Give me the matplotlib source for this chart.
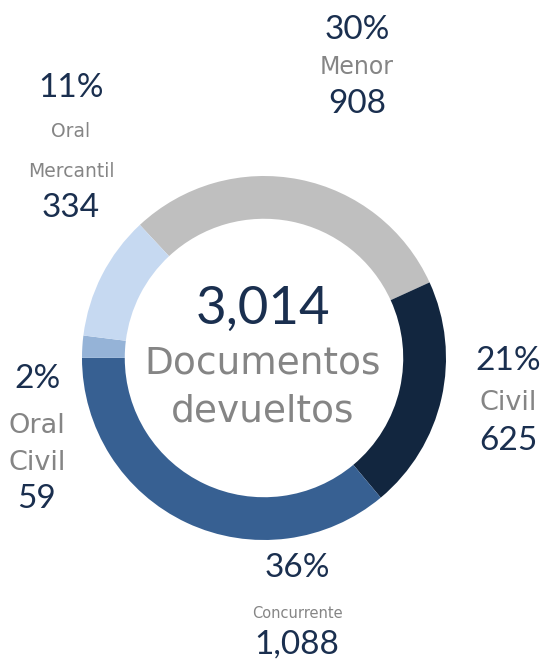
import matplotlib.pyplot as plt

# datos
categorias = ['Menor', 'Civil', 'Concurrente', 'Oral Civil', 'Oral Mercantil']
valores = [908, 625, 1088, 59, 334]
porcentajes = ['30%', '21%', '36%', '2%', '11%']
colores = ['#bfbfbf', '#12263f', '#376092', '#95b3d7', '#c6d9f1']
total = sum(valores)

azul_txt = '#1a2f4f'
gris_txt = '#858585'
W, H = 544, 661
cx, cy, r = 264, 358, 182

fig = plt.figure(figsize=(W / 100, H / 100), dpi=100)
ax = fig.add_axes([(cx - r) / W, (H - cy - r) / H, 2 * r / W, 2 * r / H])
ax.pie(valores, colors=colores, startangle=133, counterclock=False,
       radius=1, wedgeprops=dict(width=0.235, edgecolor='none'))
ax.set_xlim(-1, 1)
ax.set_ylim(-1, 1)
ax.set_aspect('equal')
ax.axis('off')


def px(x, y):
    # pixel -> coordenadas del eje
    return (x - cx) / r, (cy - y) / r


def txt(x, y, s, size, color, **kw):
    ax.text(*px(x, y), s, ha='center', va='baseline', fontsize=size,
            color=color, clip_on=False, **kw)


num = 24
# (x, baseline pct, lineas de etiqueta [(y, texto, tam)], baseline valor)
etiquetas = {
    'Menor': (357, 39, [(74, 'Menor', 17)], 113),
    'Civil': (508, 370, [(410, 'Civil', 19.5)], 450),
    'Concurrente': (297, 577, [(618, 'Concurrente', 10.5)], 654),
    'Oral Civil': (37, 388, [(433, 'Oral', 19.5), (470, 'Civil', 19.5)], 508),
    'Oral Mercantil': (71, 97, [(137, 'Oral', 13.5), (177, 'Mercantil', 13.5)], 217),
}

for cat, val, pct in zip(categorias, valores, porcentajes):
    x, yp, lineas, yv = etiquetas[cat]
    txt(x, yp, pct, num, azul_txt, family='Lato')
    for yl, s, size in lineas:
        txt(x, yl, s, size, gris_txt)
    txt(x, yv, f'{val:,}', num, azul_txt, family='Lato')

txt(263, 324, f'{total:,}', 38, azul_txt, family='Lato')
txt(263, 374, 'Documentos', 27, gris_txt)
txt(263, 422, 'devueltos', 27, gris_txt)

fig.savefig('out.png', dpi=100, facecolor='white')
